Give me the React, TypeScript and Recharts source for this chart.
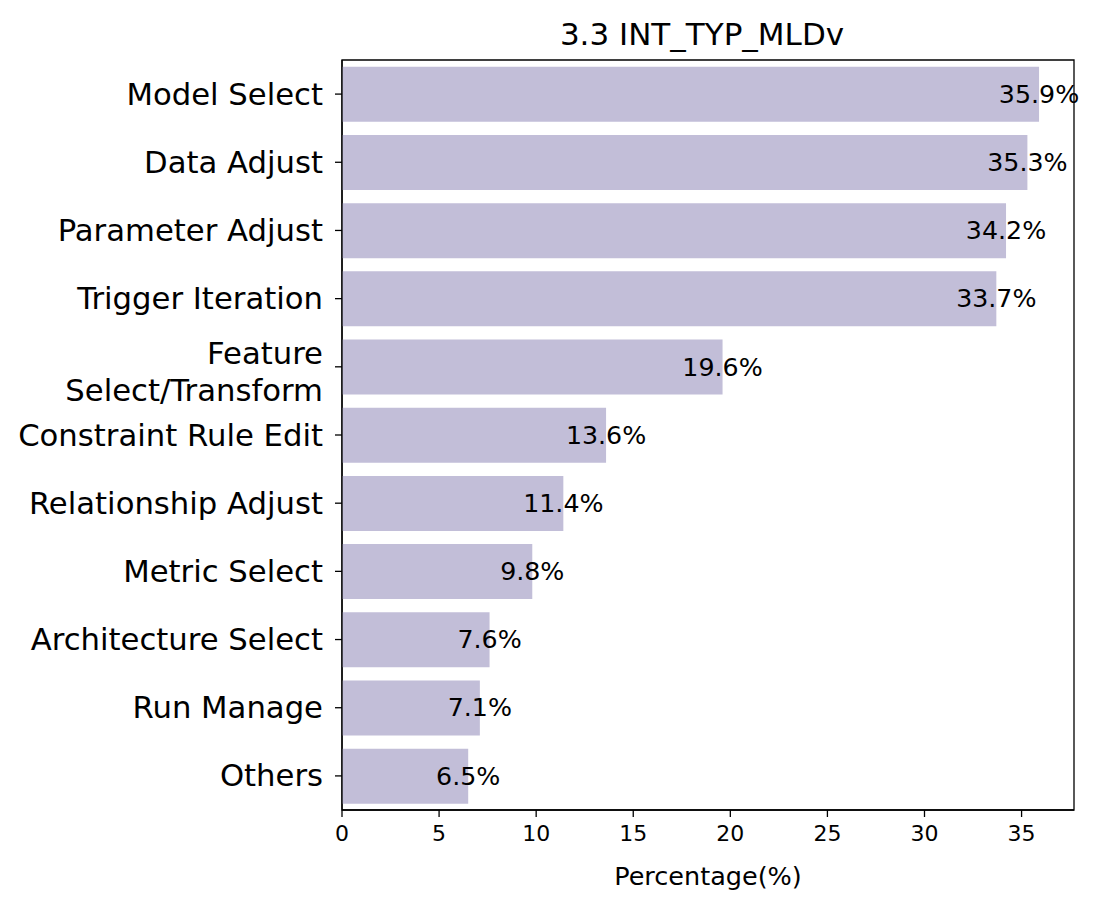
import React from 'react';
import { BarChart, Bar, XAxis, YAxis, ReferenceArea, LabelList } from 'recharts';

const categories = [
  'Model Select',
  'Data Adjust',
  'Parameter Adjust',
  'Trigger Iteration',
  'Feature\nSelect/Transform',
  'Constraint Rule Edit',
  'Relationship Adjust',
  'Metric Select',
  'Architecture Select',
  'Run Manage',
  'Others',
];
const values = [35.9, 35.3, 34.2, 33.7, 19.6, 13.6, 11.4, 9.8, 7.6, 7.1, 6.5];
const xTicks = [0, 5, 10, 15, 20, 25, 30, 35];
const title = '3.3 INT_TYP_MLDv';
const xLabel = 'Percentage(%)';

const data = categories.map((name, i) => ({ name, value: values[i] }));

const FONT = '"DejaVu Sans", sans-serif';
const BAR_COLOR = '#c2bed8';
const Y_FONT = 30.7;

const YTick = (props: any) => {
  const { x, y, payload } = props;
  const lines = String(payload.value).split('\n');
  if (lines.length === 1) {
    return (
      <text x={x} y={y} textAnchor="end" dominantBaseline="central" fontSize={Y_FONT} fontFamily={FONT} fill="#000">
        {lines[0]}
      </text>
    );
  }
  return (
    <g>
      <text x={x} y={y - 13} textAnchor="end" dominantBaseline="central" fontSize={Y_FONT} fontFamily={FONT} fill="#000">
        {lines[0]}
      </text>
      <text x={x} y={y + 24} textAnchor="end" dominantBaseline="central" fontSize={Y_FONT} fontFamily={FONT} fill="#000">
        {lines[1]}
      </text>
    </g>
  );
};

const XTick = (props: any) => {
  const { x, y, payload } = props;
  return (
    <text x={x} y={y + 14} textAnchor="middle" dominantBaseline="central" fontSize={22} fontFamily={FONT} fill="#000">
      {payload.value}
    </text>
  );
};

const ValueLabel = (props: any) => {
  const { x, y, width, height, value } = props;
  return (
    <text
      x={Number(x) + Number(width)}
      y={Number(y) + Number(height) / 2}
      textAnchor="middle"
      dominantBaseline="central"
      fontSize={25.3}
      fontFamily={FONT}
      fill="#000"
    >
      {`${Number(value).toFixed(1)}%`}
    </text>
  );
};

const XAxisLabel = (props: any) => {
  const { viewBox } = props;
  const cx = viewBox.x + viewBox.width / 2;
  return (
    <text x={cx} y={viewBox.y + 66} textAnchor="middle" dominantBaseline="central" fontSize={25.5} fontFamily={FONT} fill="#000">
      {xLabel}
    </text>
  );
};

export default function App() {
  return (
    <div style={{ position: 'relative', width: 1092, height: 890, fontFamily: FONT }}>
      <div
        style={{
          position: 'absolute',
          left: 328,
          top: 11,
          width: 732,
          textAlign: 'center',
          fontSize: 31,
          lineHeight: '30px',
          fontFamily: FONT,
          color: '#000',
          whiteSpace: 'nowrap',
        }}
      >
        {title}
      </div>
      <BarChart
        width={1092}
        height={890}
        data={data}
        layout="vertical"
        margin={{ top: 52, right: 26, bottom: 0, left: 0 }}
        barCategoryGap="10%"
      >
        <XAxis
          type="number"
          domain={[0, 37.7]}
          ticks={xTicks}
          allowDataOverflow
          height={88}
          axisLine={{ stroke: '#000', strokeWidth: 1.3 }}
          tickLine={{ stroke: '#000', strokeWidth: 1.3 }}
          tickSize={7}
          tick={<XTick />}
          label={<XAxisLabel />}
        />
        <YAxis
          type="category"
          dataKey="name"
          width={334}
          interval={0}
          axisLine={{ stroke: '#000', strokeWidth: 1.3 }}
          tickLine={{ stroke: '#000', strokeWidth: 1.3 }}
          tickSize={7}
          tickMargin={12}
          tick={<YTick />}
        />
        <ReferenceArea x1={0} x2={37.7} fill="none" stroke="#000" strokeWidth={1.3} ifOverflow="visible" />
        <Bar dataKey="value" fill={BAR_COLOR} isAnimationActive={false}>
          <LabelList dataKey="value" content={<ValueLabel />} />
        </Bar>
      </BarChart>
    </div>
  );
}
